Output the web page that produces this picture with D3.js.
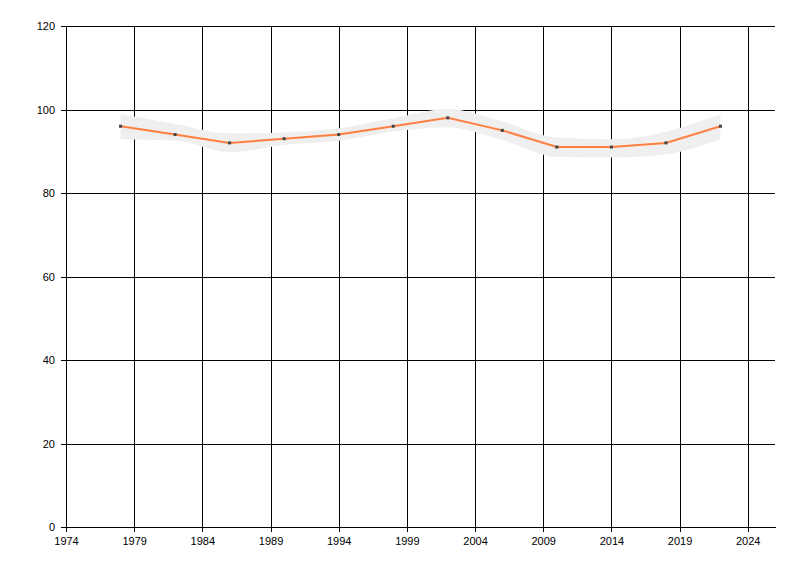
<!DOCTYPE html>
<html>
<head>
<meta charset="utf-8">
<script src="https://cdn.jsdelivr.net/npm/d3@7"></script>
<style>
  body { margin: 0; background: #fff; }
  svg text { font-family: "Liberation Sans", Arial, sans-serif; font-size: 11px; fill: #000; }
</style>
</head>
<body>
<div id="chart"></div>
<script>
// data
var years = [1978, 1982, 1986, 1990, 1994, 1998, 2002, 2006, 2010, 2014, 2018, 2022];
var values = [96, 94, 92, 93, 94, 96, 98, 95, 91, 91, 92, 96];
var upper = [98.9, 96.5, 94.3, 94.5, 95.5, 97.9, 100.1, 97.1, 93.3, 92.9, 94.7, 98.9];
var lower = [92.9, 92.6, 89.8, 91.5, 92.5, 94.7, 95.7, 92.7, 88.7, 88.5, 89.3, 92.9];
var xTicks = [1974, 1979, 1984, 1989, 1994, 1999, 2004, 2009, 2014, 2019, 2024];
var yTicks = [0, 20, 40, 60, 80, 100, 120];

// dimensions
var W = 800, H = 576;
var margin = {top: 26, left: 66, right: 25, bottom: 49};
var width = W - margin.left - margin.right,
  height = H - margin.top - margin.bottom;

var svg = d3.select("#chart").append("svg")
  .attr("width", W).attr("height", H);

var g = svg.append("g")
  .attr("transform", `translate(${margin.left}, ${margin.top})`);

var x = d3.scaleLinear().domain([1974, 2026]).range([0, width]);
var y = d3.scaleLinear().domain([0, 120]).range([height, 0]);

// axes with full-length ticks acting as grid
var yAxis = g.append("g")
  .call(d3.axisLeft(y).tickValues(yTicks).tickSizeInner(-width).tickSizeOuter(0).tickPadding(11));
yAxis.selectAll(".tick line").attr("x1", -5);

var xAxis = g.append("g")
  .attr("transform", `translate(0, ${height})`)
  .call(d3.axisBottom(x).tickValues(xTicks).tickFormat(d3.format("d"))
    .tickSizeInner(-height).tickSizeOuter(0).tickPadding(10));
xAxis.selectAll(".tick line").attr("y1", 5);

g.selectAll(".domain, .tick line")
  .attr("stroke", "#000")
  .attr("shape-rendering", "crispEdges");
g.selectAll(".tick text").attr("fill", "#000").style("font-size", "11px");

// confidence band
var pts = years.map(function(d, i) { return {yr: d, v: values[i], hi: upper[i], lo: lower[i]}; });

var band = d3.area()
  .x(function(d) { return x(d.yr); })
  .y0(function(d) { return y(d.lo); })
  .y1(function(d) { return y(d.hi); })
  .curve(d3.curveMonotoneX);

g.append("path")
  .datum(pts)
  .attr("d", band)
  .attr("fill", "#efefef");

// main line
var line = d3.line()
  .x(function(d) { return x(d.yr); })
  .y(function(d) { return y(d.v); });

g.append("path")
  .datum(pts)
  .attr("d", line)
  .attr("fill", "none")
  .attr("stroke", "#ff7f41")
  .attr("stroke-width", 2);

// small markers
g.selectAll(".pt")
  .data(pts)
  .enter().append("rect")
  .attr("class", "pt")
  .attr("x", function(d) { return x(d.yr) - 1.5; })
  .attr("y", function(d) { return y(d.v) - 1.5; })
  .attr("width", 3).attr("height", 3)
  .attr("fill", "#444");
</script>
</body>
</html>
